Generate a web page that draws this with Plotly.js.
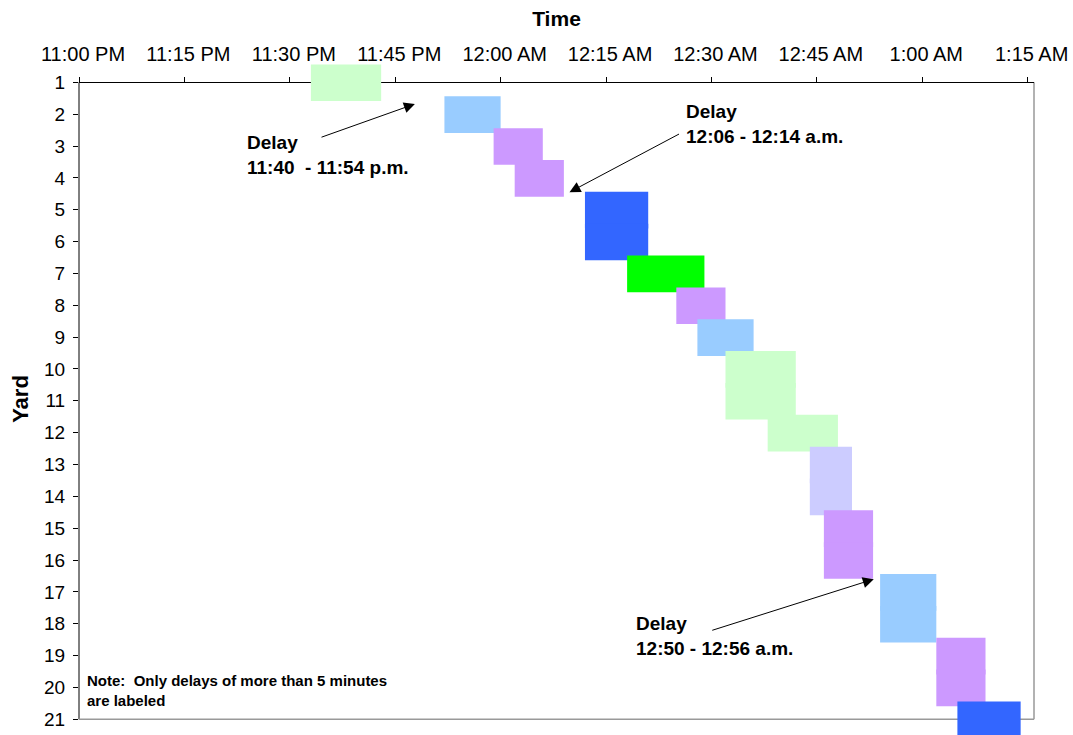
<!DOCTYPE html>
<html>
<head>
<meta charset="utf-8">
<script src="https://cdn.plot.ly/plotly-3.0.1.min.js"></script>
<style>
  html, body { margin: 0; padding: 0; background: #ffffff; }
  #chart { width: 1073px; height: 735px; }
</style>
</head>
<body>
<div id="chart"></div>
<script>
// ---- Data ----
const yards = [1, 2, 3, 4, 5, 6, 7, 8, 9, 10, 11, 12, 13, 14, 15, 16, 17, 18, 19, 20, 21];
const startTimes = ['23:33', '23:52', '23:59', '00:02', '00:12', '00:12', '00:18', '00:25', '00:28', '00:32', '00:32',
                    '00:38', '00:44', '00:44', '00:46', '00:46', '00:54', '00:54', '01:02', '01:02', '01:05'];
const endTimes   = ['23:43', '00:00', '00:06', '00:09', '00:21', '00:21', '00:29', '00:32', '00:36', '00:42', '00:42',
                    '00:48', '00:50', '00:50', '00:53', '00:53', '01:02', '01:02', '01:09', '01:09', '01:14'];
const blockColors = ['#CCFFCC', '#99CCFF', '#CC99FF', '#CC99FF', '#3366FF', '#3366FF', '#00FF00', '#CC99FF', '#99CCFF', '#CCFFCC', '#CCFFCC',
                     '#CCFFCC', '#CCCCFF', '#CCCCFF', '#CC99FF', '#CC99FF', '#99CCFF', '#99CCFF', '#CC99FF', '#CC99FF', '#3366FF'];
const xTickStart = '23:00';
const xTickStepMinutes = 15;

// ---- helpers: clock time -> datetime on the night (PM = day 1, AM = day 2) ----
function toDate(t) {
  const h = parseInt(t.split(':')[0], 10);
  const day = h >= 12 ? '2000-01-01' : '2000-01-02';
  return day + ' ' + t + (t.length === 5 ? ':00' : '');
}
function toMs(t) { return new Date(toDate(t).replace(' ', 'T')).getTime(); }

const bases = startTimes.map(toDate);
const durations = startTimes.map((s, i) => toMs(endTimes[i]) - toMs(s));

const trace = {
  type: 'bar',
  orientation: 'h',
  y: yards,
  x: durations,
  base: bases,
  width: 1.15,
  offset: -0.56,
  marker: { color: blockColors, line: { width: 0 } },
  hoverinfo: 'skip',
  showlegend: false
};

const FONT = 'Arial, "Liberation Sans", sans-serif';
const firstYard = yards[0];
const lastYard = yards[yards.length - 1];
// y range extended a little beyond yards 1..21 so the blocks can overhang the frame
const yTop = 0.394, yBottom = 21.493;
const xAxisPos = (yBottom - firstYard) / (yBottom - yTop);

const arrowStyle = { text: '', showarrow: true, arrowhead: 2, arrowsize: 2.2, arrowwidth: 1, arrowcolor: '#000000',
                     xref: 'x', yref: 'y', axref: 'x', ayref: 'y' };

const layout = {
  width: 1073,
  height: 735,
  margin: { l: 79, r: 39, t: 63, b: 0 },
  paper_bgcolor: '#ffffff',
  plot_bgcolor: '#ffffff',
  font: { family: FONT, color: '#000000', size: 19 },
  barmode: 'overlay',
  showlegend: false,
  xaxis: {
    type: 'date',
    side: 'top',
    anchor: 'free',
    position: xAxisPos,
    range: ['2000-01-01 23:00:00', '2000-01-02 01:15:54'],
    tick0: toDate(xTickStart),
    dtick: xTickStepMinutes * 60 * 1000,
    tickformat: '%-I:%M %p',
    ticks: 'outside',
    ticklen: 5,
    tickcolor: '#000000',
    ticklabelstandoff: 8,
    ticklabelshift: 4,
    showline: true,
    linecolor: '#000000',
    linewidth: 1,
    showgrid: false,
    zeroline: false,
    layer: 'below traces',
    tickfont: { family: FONT, size: 20, color: '#000000' },
    title: { text: '<b>Time</b>', font: { family: FONT, size: 21, color: '#000000' }, standoff: 9 },
    automargin: false,
    fixedrange: true
  },
  yaxis: {
    range: [yBottom, yTop],
    tickmode: 'array',
    tickvals: yards,
    ticktext: yards.map(String),
    ticks: 'outside',
    ticklen: 5,
    tickcolor: '#000000',
    ticklabelstandoff: 4,
    showline: false,
    showgrid: false,
    zeroline: false,
    layer: 'below traces',
    tickfont: { family: FONT, size: 19, color: '#000000' },
    title: { text: '<b>Yard</b>', font: { family: FONT, size: 22, color: '#000000' }, standoff: 9 },
    automargin: false,
    fixedrange: true
  },
  shapes: [
    // left axis line (black)
    { type: 'line', xref: 'paper', yref: 'y', x0: 0, x1: 0, y0: firstYard, y1: lastYard, line: { color: '#000000', width: 1 }, layer: 'below' },
    // grey plot-area frame (right and bottom edges)
    { type: 'line', xref: 'paper', yref: 'y', x0: 1, x1: 1, y0: firstYard, y1: lastYard, line: { color: '#999999', width: 1.5 }, layer: 'below' },
    { type: 'line', xref: 'paper', yref: 'y', x0: 0, x1: 1, y0: lastYard, y1: lastYard, line: { color: '#999999', width: 1.5 }, layer: 'below' }
  ],
  annotations: [
    // arrows
    Object.assign({ x: '2000-01-01 23:47:48', y: 1.68, ax: '2000-01-01 23:34:18', ay: 2.74 }, arrowStyle),
    Object.assign({ x: '2000-01-02 00:09:48', y: 4.45, ax: '2000-01-02 00:25:36', ay: 2.6 }, arrowStyle),
    Object.assign({ x: '2000-01-02 00:53:06', y: 16.6, ax: '2000-01-02 00:29:54', ay: 18.22 }, arrowStyle),
    // labels
    { xref: 'x', yref: 'y', x: '2000-01-01 23:23:36', y: 3.27, xanchor: 'left', yanchor: 'middle', align: 'left', showarrow: false,
      text: '<b>Delay<br>11:40 \u00A0- 11:54 p.m.</b>', font: { family: FONT, size: 19, color: '#000000' } },
    { xref: 'x', yref: 'y', x: '2000-01-02 00:26:06', y: 2.3, xanchor: 'left', yanchor: 'middle', align: 'left', showarrow: false,
      text: '<b>Delay<br>12:06 - 12:14 a.m.</b>', font: { family: FONT, size: 19, color: '#000000' } },
    { xref: 'x', yref: 'y', x: '2000-01-02 00:19:00', y: 18.37, xanchor: 'left', yanchor: 'middle', align: 'left', showarrow: false,
      text: '<b>Delay<br>12:50 - 12:56 a.m.</b>', font: { family: FONT, size: 19, color: '#000000' } },
    { xref: 'x', yref: 'y', x: '2000-01-01 23:00:50', y: 20.1, xanchor: 'left', yanchor: 'middle', align: 'left', showarrow: false,
      text: '<b>Note: \u00A0Only delays of more than 5 minutes<br>are labeled</b>', font: { family: FONT, size: 15, color: '#000000' } }
  ]
};

Plotly.newPlot('chart', [trace], layout, { displayModeBar: false, staticPlot: true });
</script>
</body>
</html>
